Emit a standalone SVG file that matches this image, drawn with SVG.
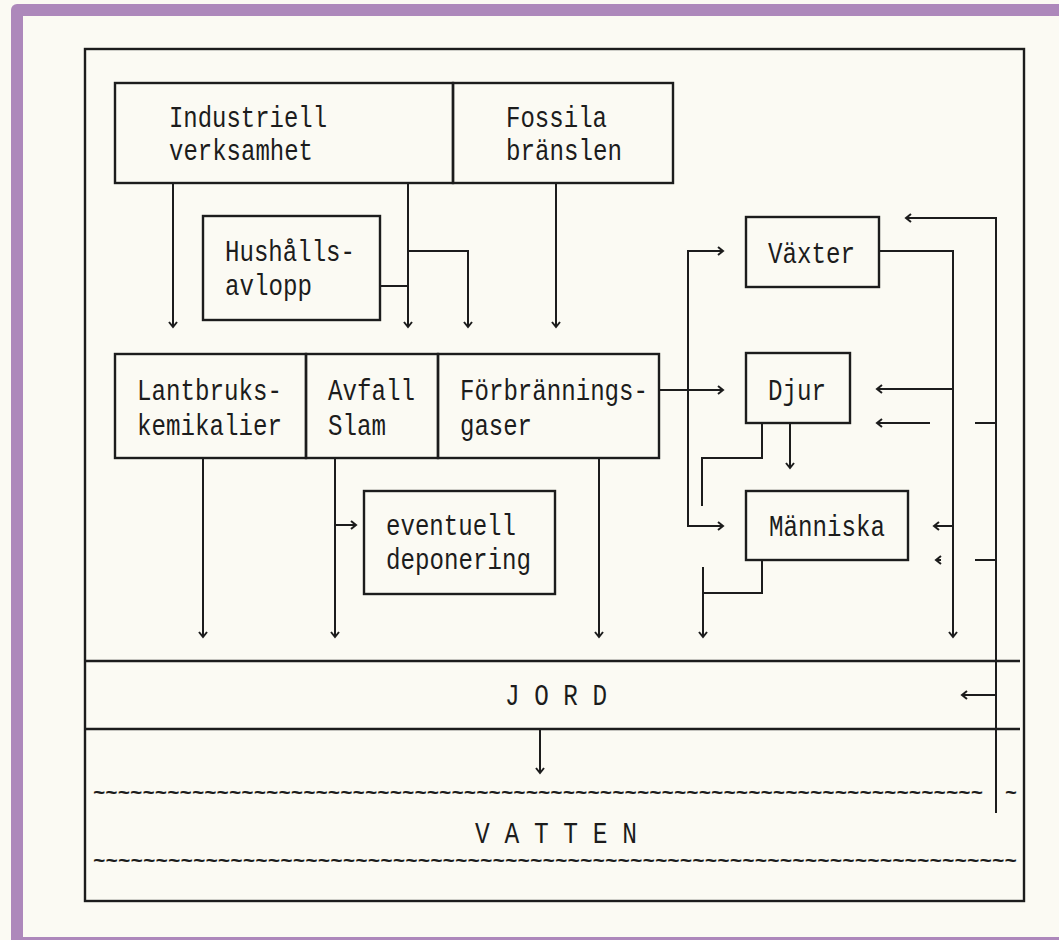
<svg xmlns="http://www.w3.org/2000/svg" width="1059" height="940" viewBox="0 0 1059 940">
<defs>
<style>
.bg{fill:#fbfaf3}
.frame{fill:#ad88bb}
.box{fill:none;stroke:#1c1c1c;stroke-width:2.4}
.ln{fill:none;stroke:#1c1c1c;stroke-width:2}
.t{font-family:"Liberation Mono","DejaVu Sans Mono",monospace;font-size:29px;fill:#1c1c1c}
.w{font-family:"Liberation Mono","DejaVu Sans Mono",monospace;font-size:20.5px;font-weight:bold;fill:#1c1c1c}
</style>
<marker id="ah" markerUnits="userSpaceOnUse" markerWidth="12" markerHeight="12" refX="7" refY="6" orient="auto">
<path d="M2,2 L7,6 L2,10" fill="none" stroke="#1c1c1c" stroke-width="2"/>
</marker>
</defs>
<rect class="bg" x="0" y="0" width="1059" height="940"/>
<rect class="frame" x="11" y="4" width="1080" height="960" rx="6"/>
<rect class="bg" x="23" y="16" width="1036" height="921"/>
<rect id="outer-frame" class="box" x="85" y="49" width="939" height="852"/>

<g id="industriell">
<rect class="box" x="115" y="83" width="338" height="100"/>
<text class="t" x="169" y="127" textLength="158" lengthAdjust="spacingAndGlyphs">Industriell</text>
<text class="t" x="169" y="160" textLength="144" lengthAdjust="spacingAndGlyphs">verksamhet</text>
</g>
<g id="fossila">
<rect class="box" x="453" y="83" width="220" height="100"/>
<text class="t" x="506" y="127" textLength="101" lengthAdjust="spacingAndGlyphs">Fossila</text>
<text class="t" x="506" y="160" textLength="116" lengthAdjust="spacingAndGlyphs">bränslen</text>
</g>
<g id="hushall">
<rect class="box" x="203" y="216" width="177" height="104"/>
<text class="t" x="225" y="261" textLength="130" lengthAdjust="spacingAndGlyphs">Hushålls-</text>
<text class="t" x="225" y="295" textLength="87" lengthAdjust="spacingAndGlyphs">avlopp</text>
</g>
<g id="lantbruk">
<rect class="box" x="115" y="354" width="191" height="104"/>
<text class="t" x="137" y="400" textLength="145" lengthAdjust="spacingAndGlyphs">Lantbruks-</text>
<text class="t" x="137" y="435" textLength="145" lengthAdjust="spacingAndGlyphs">kemikalier</text>
</g>
<g id="avfall">
<rect class="box" x="306" y="354" width="132" height="104"/>
<text class="t" x="328" y="400" textLength="87" lengthAdjust="spacingAndGlyphs">Avfall</text>
<text class="t" x="328" y="435" textLength="58" lengthAdjust="spacingAndGlyphs">Slam</text>
</g>
<g id="forbranning">
<rect class="box" x="438" y="354" width="221" height="104"/>
<text class="t" x="460" y="400" textLength="188" lengthAdjust="spacingAndGlyphs">Förbrännings-</text>
<text class="t" x="460" y="435" textLength="72" lengthAdjust="spacingAndGlyphs">gaser</text>
</g>
<g id="deponering">
<rect class="box" x="364" y="491" width="191" height="103"/>
<text class="t" x="386" y="535" textLength="130" lengthAdjust="spacingAndGlyphs">eventuell</text>
<text class="t" x="386" y="569" textLength="145" lengthAdjust="spacingAndGlyphs">deponering</text>
</g>
<g id="vaxter">
<rect class="box" x="746" y="217" width="133" height="70"/>
<text class="t" x="768" y="263" textLength="87" lengthAdjust="spacingAndGlyphs">Växter</text>
</g>
<g id="djur">
<rect class="box" x="746" y="353" width="104" height="70"/>
<text class="t" x="768" y="400" textLength="58" lengthAdjust="spacingAndGlyphs">Djur</text>
</g>
<g id="manniska">
<rect class="box" x="746" y="491" width="162" height="69"/>
<text class="t" x="769" y="536" textLength="116" lengthAdjust="spacingAndGlyphs">Människa</text>
</g>
<g id="jord">
<line class="box" x1="85" y1="661" x2="1020" y2="661"/>
<line class="box" x1="85" y1="729" x2="1020" y2="729"/>
<text class="t" x="505" y="705" textLength="102" lengthAdjust="spacingAndGlyphs">J O R D</text>
</g>
<g id="vatten">
<text class="w" x="93" y="799" textLength="890" lengthAdjust="spacingAndGlyphs">~~~~~~~~~~~~~~~~~~~~~~~~~~~~~~~~~~~~~~~~~~~~~~~~~~~~~~~~~~~~~~~~~~~~~~~~</text>
<text class="w" x="1005" y="799" textLength="12" lengthAdjust="spacingAndGlyphs">~</text>
<text class="t" x="475" y="843" textLength="162" lengthAdjust="spacingAndGlyphs">V A T T E N</text>
<text class="w" x="93" y="867" textLength="924" lengthAdjust="spacingAndGlyphs">~~~~~~~~~~~~~~~~~~~~~~~~~~~~~~~~~~~~~~~~~~~~~~~~~~~~~~~~~~~~~~~~~~~~~~~~~~</text>
</g>

<g id="connectors">
<path class="ln" d="M173,183 V327" marker-end="url(#ah)"/>
<path class="ln" d="M408,183 V327" marker-end="url(#ah)"/>
<path class="ln" d="M380,286 H408"/>
<path class="ln" d="M408,251 H468 V327" marker-end="url(#ah)"/>
<path class="ln" d="M556,183 V327" marker-end="url(#ah)"/>
<path class="ln" d="M203,458 V637" marker-end="url(#ah)"/>
<path class="ln" d="M335,458 V637" marker-end="url(#ah)"/>
<path class="ln" d="M335,525 H356" marker-end="url(#ah)"/>
<path class="ln" d="M599,458 V637" marker-end="url(#ah)"/>
<path class="ln" d="M659,390 H723" marker-end="url(#ah)"/>
<path class="ln" d="M688,390 V251 H723" marker-end="url(#ah)"/>
<path class="ln" d="M688,390 V526 H723" marker-end="url(#ah)"/>
<path class="ln" d="M762,423 V458 H702 V506"/>
<path class="ln" d="M790,423 V468" marker-end="url(#ah)"/>
<path class="ln" d="M762,560 V593 H703"/>
<path class="ln" d="M703,567 V637" marker-end="url(#ah)"/>
<path class="ln" d="M879,251 H953 V637" marker-end="url(#ah)"/>
<path class="ln" d="M953,389 H877" marker-end="url(#ah)"/>
<path class="ln" d="M930,423 H877" marker-end="url(#ah)"/>
<path class="ln" d="M975,423 H996"/>
<path class="ln" d="M953,526 H934" marker-end="url(#ah)"/>
<path class="ln" d="M941,560 H936" stroke-width="0.5" marker-end="url(#ah)"/>
<path class="ln" d="M975,560 H996"/>
<path class="ln" d="M996,813 V218 H906" marker-end="url(#ah)"/>
<path class="ln" d="M996,695 H962" marker-end="url(#ah)"/>
<path class="ln" d="M540,729 V773" marker-end="url(#ah)"/>
</g>
</svg>
